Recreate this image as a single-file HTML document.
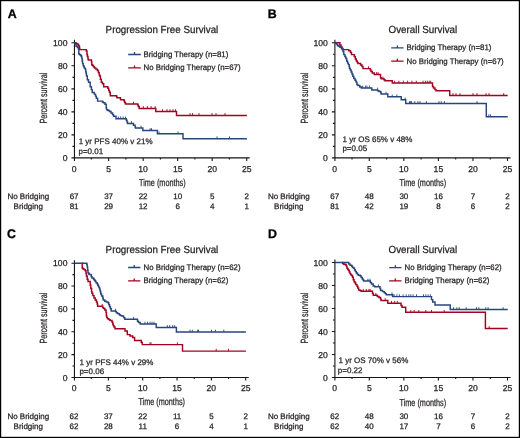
<!DOCTYPE html>
<html><head><meta charset="utf-8"><title>Kaplan-Meier survival curves</title>
<style>
html,body{margin:0;padding:0;background:#fff;}
body{width:520px;height:438px;overflow:hidden;}
svg{display:block;font-family:"Liberation Sans", sans-serif;text-rendering:geometricPrecision;will-change:transform;}
</style></head>
<body>
<svg width="520" height="438" viewBox="0 0 520 438">
<rect x="0" y="0" width="520" height="438" fill="#fff"/>
<text x="7.70" y="18.20" font-size="12.4" text-anchor="start" font-weight="bold" fill="#000" stroke="#000" stroke-width="0.3" >A</text>
<text x="267.80" y="18.20" font-size="12.4" text-anchor="start" font-weight="bold" fill="#000" stroke="#000" stroke-width="0.3" >B</text>
<text x="7.10" y="238.10" font-size="12.4" text-anchor="start" font-weight="bold" fill="#000" stroke="#000" stroke-width="0.3" >C</text>
<text x="268.00" y="238.10" font-size="12.4" text-anchor="start" font-weight="bold" fill="#000" stroke="#000" stroke-width="0.3" >D</text>
<text transform="translate(105.60 33.40) scale(0.951 1)" font-size="10.3" text-anchor="start" font-weight="normal" fill="#231f20" stroke="#231f20" stroke-width="0.25" >Progression Free Survival</text>
<text transform="translate(388.60 33.30) scale(0.951 1)" font-size="10.3" text-anchor="start" font-weight="normal" fill="#231f20" stroke="#231f20" stroke-width="0.25" >Overall Survival</text>
<text transform="translate(105.60 253.00) scale(0.951 1)" font-size="10.3" text-anchor="start" font-weight="normal" fill="#231f20" stroke="#231f20" stroke-width="0.25" >Progression Free Survival</text>
<text transform="translate(388.60 253.30) scale(0.951 1)" font-size="10.3" text-anchor="start" font-weight="normal" fill="#231f20" stroke="#231f20" stroke-width="0.25" >Overall Survival</text>
<path d="M74.45 39.80V160.90M71.45 157.90H249.70M71.45 157.90H74.45M72.45 146.39H74.45M71.45 134.88H74.45M72.45 123.37H74.45M71.45 111.86H74.45M72.45 100.35H74.45M71.45 88.84H74.45M72.45 77.33H74.45M71.45 65.82H74.45M72.45 54.31H74.45M71.45 42.80H74.45M91.36 157.90V159.50M108.62 157.90V160.90M125.88 157.90V159.50M143.14 157.90V160.90M160.40 157.90V159.50M177.66 157.90V160.90M194.92 157.90V159.50M212.18 157.90V160.90M229.44 157.90V159.50M246.70 157.90V160.90" stroke="#161616" stroke-width="1.1" fill="none"/>
<text x="67.45" y="160.90" font-size="8.6" text-anchor="end" font-weight="normal" fill="#231f20" stroke="#231f20" stroke-width="0.25" >0</text>
<text x="67.45" y="137.88" font-size="8.6" text-anchor="end" font-weight="normal" fill="#231f20" stroke="#231f20" stroke-width="0.25" >20</text>
<text x="67.45" y="114.86" font-size="8.6" text-anchor="end" font-weight="normal" fill="#231f20" stroke="#231f20" stroke-width="0.25" >40</text>
<text x="67.45" y="91.84" font-size="8.6" text-anchor="end" font-weight="normal" fill="#231f20" stroke="#231f20" stroke-width="0.25" >60</text>
<text x="67.45" y="68.82" font-size="8.6" text-anchor="end" font-weight="normal" fill="#231f20" stroke="#231f20" stroke-width="0.25" >80</text>
<text x="67.45" y="45.80" font-size="8.6" text-anchor="end" font-weight="normal" fill="#231f20" stroke="#231f20" stroke-width="0.25" >100</text>
<text x="74.10" y="171.90" font-size="8.6" text-anchor="middle" font-weight="normal" fill="#231f20" stroke="#231f20" stroke-width="0.25" >0</text>
<text x="108.62" y="171.90" font-size="8.6" text-anchor="middle" font-weight="normal" fill="#231f20" stroke="#231f20" stroke-width="0.25" >5</text>
<text x="143.14" y="171.90" font-size="8.6" text-anchor="middle" font-weight="normal" fill="#231f20" stroke="#231f20" stroke-width="0.25" >10</text>
<text x="177.66" y="171.90" font-size="8.6" text-anchor="middle" font-weight="normal" fill="#231f20" stroke="#231f20" stroke-width="0.25" >15</text>
<text x="212.18" y="171.90" font-size="8.6" text-anchor="middle" font-weight="normal" fill="#231f20" stroke="#231f20" stroke-width="0.25" >20</text>
<text x="246.70" y="171.90" font-size="8.6" text-anchor="middle" font-weight="normal" fill="#231f20" stroke="#231f20" stroke-width="0.25" >25</text>
<path d="M334.90 39.80V160.90M331.90 157.90H510.50M331.90 157.90H334.90M332.90 146.39H334.90M331.90 134.88H334.90M332.90 123.37H334.90M331.90 111.86H334.90M332.90 100.35H334.90M331.90 88.84H334.90M332.90 77.33H334.90M331.90 65.82H334.90M332.90 54.31H334.90M331.90 42.80H334.90M352.02 157.90V159.50M369.30 157.90V160.90M386.57 157.90V159.50M403.85 157.90V160.90M421.12 157.90V159.50M438.40 157.90V160.90M455.68 157.90V159.50M472.95 157.90V160.90M490.23 157.90V159.50M507.50 157.90V160.90" stroke="#161616" stroke-width="1.1" fill="none"/>
<text x="327.90" y="160.90" font-size="8.6" text-anchor="end" font-weight="normal" fill="#231f20" stroke="#231f20" stroke-width="0.25" >0</text>
<text x="327.90" y="137.88" font-size="8.6" text-anchor="end" font-weight="normal" fill="#231f20" stroke="#231f20" stroke-width="0.25" >20</text>
<text x="327.90" y="114.86" font-size="8.6" text-anchor="end" font-weight="normal" fill="#231f20" stroke="#231f20" stroke-width="0.25" >40</text>
<text x="327.90" y="91.84" font-size="8.6" text-anchor="end" font-weight="normal" fill="#231f20" stroke="#231f20" stroke-width="0.25" >60</text>
<text x="327.90" y="68.82" font-size="8.6" text-anchor="end" font-weight="normal" fill="#231f20" stroke="#231f20" stroke-width="0.25" >80</text>
<text x="327.90" y="45.80" font-size="8.6" text-anchor="end" font-weight="normal" fill="#231f20" stroke="#231f20" stroke-width="0.25" >100</text>
<text x="334.75" y="171.90" font-size="8.6" text-anchor="middle" font-weight="normal" fill="#231f20" stroke="#231f20" stroke-width="0.25" >0</text>
<text x="369.30" y="171.90" font-size="8.6" text-anchor="middle" font-weight="normal" fill="#231f20" stroke="#231f20" stroke-width="0.25" >5</text>
<text x="403.85" y="171.90" font-size="8.6" text-anchor="middle" font-weight="normal" fill="#231f20" stroke="#231f20" stroke-width="0.25" >10</text>
<text x="438.40" y="171.90" font-size="8.6" text-anchor="middle" font-weight="normal" fill="#231f20" stroke="#231f20" stroke-width="0.25" >15</text>
<text x="472.95" y="171.90" font-size="8.6" text-anchor="middle" font-weight="normal" fill="#231f20" stroke="#231f20" stroke-width="0.25" >20</text>
<text x="507.50" y="171.90" font-size="8.6" text-anchor="middle" font-weight="normal" fill="#231f20" stroke="#231f20" stroke-width="0.25" >25</text>
<path d="M74.45 260.20V380.50M71.45 377.50H248.70M71.45 377.50H74.45M72.45 366.07H74.45M71.45 354.64H74.45M72.45 343.21H74.45M71.45 331.78H74.45M72.45 320.35H74.45M71.45 308.92H74.45M72.45 297.49H74.45M71.45 286.06H74.45M72.45 274.63H74.45M71.45 263.20H74.45M91.22 377.50V379.10M108.38 377.50V380.50M125.54 377.50V379.10M142.71 377.50V380.50M159.88 377.50V379.10M177.04 377.50V380.50M194.20 377.50V379.10M211.37 377.50V380.50M228.53 377.50V379.10M245.70 377.50V380.50" stroke="#161616" stroke-width="1.1" fill="none"/>
<text x="67.45" y="380.50" font-size="8.6" text-anchor="end" font-weight="normal" fill="#231f20" stroke="#231f20" stroke-width="0.25" >0</text>
<text x="67.45" y="357.64" font-size="8.6" text-anchor="end" font-weight="normal" fill="#231f20" stroke="#231f20" stroke-width="0.25" >20</text>
<text x="67.45" y="334.78" font-size="8.6" text-anchor="end" font-weight="normal" fill="#231f20" stroke="#231f20" stroke-width="0.25" >40</text>
<text x="67.45" y="311.92" font-size="8.6" text-anchor="end" font-weight="normal" fill="#231f20" stroke="#231f20" stroke-width="0.25" >60</text>
<text x="67.45" y="289.06" font-size="8.6" text-anchor="end" font-weight="normal" fill="#231f20" stroke="#231f20" stroke-width="0.25" >80</text>
<text x="67.45" y="266.20" font-size="8.6" text-anchor="end" font-weight="normal" fill="#231f20" stroke="#231f20" stroke-width="0.25" >100</text>
<text x="74.05" y="391.40" font-size="8.6" text-anchor="middle" font-weight="normal" fill="#231f20" stroke="#231f20" stroke-width="0.25" >0</text>
<text x="108.38" y="391.40" font-size="8.6" text-anchor="middle" font-weight="normal" fill="#231f20" stroke="#231f20" stroke-width="0.25" >5</text>
<text x="142.71" y="391.40" font-size="8.6" text-anchor="middle" font-weight="normal" fill="#231f20" stroke="#231f20" stroke-width="0.25" >10</text>
<text x="177.04" y="391.40" font-size="8.6" text-anchor="middle" font-weight="normal" fill="#231f20" stroke="#231f20" stroke-width="0.25" >15</text>
<text x="211.37" y="391.40" font-size="8.6" text-anchor="middle" font-weight="normal" fill="#231f20" stroke="#231f20" stroke-width="0.25" >20</text>
<text x="245.70" y="391.40" font-size="8.6" text-anchor="middle" font-weight="normal" fill="#231f20" stroke="#231f20" stroke-width="0.25" >25</text>
<path d="M334.90 259.50V380.50M331.90 377.50H510.50M331.90 377.50H334.90M332.90 366.00H334.90M331.90 354.50H334.90M332.90 343.00H334.90M331.90 331.50H334.90M332.90 320.00H334.90M331.90 308.50H334.90M332.90 297.00H334.90M331.90 285.50H334.90M332.90 274.00H334.90M331.90 262.50H334.90M352.02 377.50V379.10M369.30 377.50V380.50M386.57 377.50V379.10M403.85 377.50V380.50M421.12 377.50V379.10M438.40 377.50V380.50M455.68 377.50V379.10M472.95 377.50V380.50M490.23 377.50V379.10M507.50 377.50V380.50" stroke="#161616" stroke-width="1.1" fill="none"/>
<text x="327.90" y="380.50" font-size="8.6" text-anchor="end" font-weight="normal" fill="#231f20" stroke="#231f20" stroke-width="0.25" >0</text>
<text x="327.90" y="357.50" font-size="8.6" text-anchor="end" font-weight="normal" fill="#231f20" stroke="#231f20" stroke-width="0.25" >20</text>
<text x="327.90" y="334.50" font-size="8.6" text-anchor="end" font-weight="normal" fill="#231f20" stroke="#231f20" stroke-width="0.25" >40</text>
<text x="327.90" y="311.50" font-size="8.6" text-anchor="end" font-weight="normal" fill="#231f20" stroke="#231f20" stroke-width="0.25" >60</text>
<text x="327.90" y="288.50" font-size="8.6" text-anchor="end" font-weight="normal" fill="#231f20" stroke="#231f20" stroke-width="0.25" >80</text>
<text x="327.90" y="265.50" font-size="8.6" text-anchor="end" font-weight="normal" fill="#231f20" stroke="#231f20" stroke-width="0.25" >100</text>
<text x="334.75" y="391.40" font-size="8.6" text-anchor="middle" font-weight="normal" fill="#231f20" stroke="#231f20" stroke-width="0.25" >0</text>
<text x="369.30" y="391.40" font-size="8.6" text-anchor="middle" font-weight="normal" fill="#231f20" stroke="#231f20" stroke-width="0.25" >5</text>
<text x="403.85" y="391.40" font-size="8.6" text-anchor="middle" font-weight="normal" fill="#231f20" stroke="#231f20" stroke-width="0.25" >10</text>
<text x="438.40" y="391.40" font-size="8.6" text-anchor="middle" font-weight="normal" fill="#231f20" stroke="#231f20" stroke-width="0.25" >15</text>
<text x="472.95" y="391.40" font-size="8.6" text-anchor="middle" font-weight="normal" fill="#231f20" stroke="#231f20" stroke-width="0.25" >20</text>
<text x="507.50" y="391.40" font-size="8.6" text-anchor="middle" font-weight="normal" fill="#231f20" stroke="#231f20" stroke-width="0.25" >25</text>
<text transform="translate(46.70 98.20) rotate(-90)" x="0" y="0" font-size="10.4" text-anchor="middle" fill="#231f20" stroke="#231f20" stroke-width="0.25" textLength="50.8" lengthAdjust="spacingAndGlyphs">Percent survival</text>
<text transform="translate(307.50 98.20) rotate(-90)" x="0" y="0" font-size="10.4" text-anchor="middle" fill="#231f20" stroke="#231f20" stroke-width="0.25" textLength="50.8" lengthAdjust="spacingAndGlyphs">Percent survival</text>
<text transform="translate(46.70 318.20) rotate(-90)" x="0" y="0" font-size="10.4" text-anchor="middle" fill="#231f20" stroke="#231f20" stroke-width="0.25" textLength="50.8" lengthAdjust="spacingAndGlyphs">Percent survival</text>
<text transform="translate(307.50 318.20) rotate(-90)" x="0" y="0" font-size="10.4" text-anchor="middle" fill="#231f20" stroke="#231f20" stroke-width="0.25" textLength="50.8" lengthAdjust="spacingAndGlyphs">Percent survival</text>
<text x="139.00" y="185.90" font-size="10" fill="#231f20" stroke="#231f20" stroke-width="0.25" textLength="46.6" lengthAdjust="spacingAndGlyphs">Time (months)</text>
<text x="399.50" y="185.90" font-size="10" fill="#231f20" stroke="#231f20" stroke-width="0.25" textLength="46.6" lengthAdjust="spacingAndGlyphs">Time (months)</text>
<text x="138.40" y="405.40" font-size="10" fill="#231f20" stroke="#231f20" stroke-width="0.25" textLength="46.6" lengthAdjust="spacingAndGlyphs">Time (months)</text>
<text x="399.50" y="405.70" font-size="10" fill="#231f20" stroke="#231f20" stroke-width="0.25" textLength="46.6" lengthAdjust="spacingAndGlyphs">Time (months)</text>
<text x="78.70" y="143.90" font-size="8" text-anchor="start" font-weight="normal" fill="#231f20" stroke="#231f20" stroke-width="0.25" >1 yr PFS 40% v 21%</text>
<text x="78.50" y="153.80" font-size="8" text-anchor="start" font-weight="normal" fill="#231f20" stroke="#231f20" stroke-width="0.25" >p=0.01</text>
<text x="342.60" y="141.50" font-size="8" text-anchor="start" font-weight="normal" fill="#231f20" stroke="#231f20" stroke-width="0.25" >1 yr OS 65% v 48%</text>
<text x="342.40" y="151.00" font-size="8" text-anchor="start" font-weight="normal" fill="#231f20" stroke="#231f20" stroke-width="0.25" >p=0.05</text>
<text x="79.60" y="364.70" font-size="8" text-anchor="start" font-weight="normal" fill="#231f20" stroke="#231f20" stroke-width="0.25" >1 yr PFS 44% v 29%</text>
<text x="79.40" y="374.20" font-size="8" text-anchor="start" font-weight="normal" fill="#231f20" stroke="#231f20" stroke-width="0.25" >p=0.06</text>
<text x="338.50" y="363.00" font-size="8" text-anchor="start" font-weight="normal" fill="#231f20" stroke="#231f20" stroke-width="0.25" >1 yr OS 70% v 56%</text>
<text x="337.80" y="372.50" font-size="8" text-anchor="start" font-weight="normal" fill="#231f20" stroke="#231f20" stroke-width="0.25" >p=0.22</text>
<text x="28.30" y="199.00" font-size="8" text-anchor="middle" font-weight="normal" fill="#231f20" stroke="#231f20" stroke-width="0.25" >No Bridging</text>
<text x="28.30" y="209.00" font-size="8" text-anchor="middle" font-weight="normal" fill="#231f20" stroke="#231f20" stroke-width="0.25" >Bridging</text>
<text x="74.10" y="199.00" font-size="8" text-anchor="middle" font-weight="normal" fill="#231f20" stroke="#231f20" stroke-width="0.25" >67</text>
<text x="74.10" y="209.00" font-size="8" text-anchor="middle" font-weight="normal" fill="#231f20" stroke="#231f20" stroke-width="0.25" >81</text>
<text x="108.62" y="199.00" font-size="8" text-anchor="middle" font-weight="normal" fill="#231f20" stroke="#231f20" stroke-width="0.25" >37</text>
<text x="108.62" y="209.00" font-size="8" text-anchor="middle" font-weight="normal" fill="#231f20" stroke="#231f20" stroke-width="0.25" >29</text>
<text x="143.14" y="199.00" font-size="8" text-anchor="middle" font-weight="normal" fill="#231f20" stroke="#231f20" stroke-width="0.25" >22</text>
<text x="143.14" y="209.00" font-size="8" text-anchor="middle" font-weight="normal" fill="#231f20" stroke="#231f20" stroke-width="0.25" >12</text>
<text x="177.66" y="199.00" font-size="8" text-anchor="middle" font-weight="normal" fill="#231f20" stroke="#231f20" stroke-width="0.25" >10</text>
<text x="177.66" y="209.00" font-size="8" text-anchor="middle" font-weight="normal" fill="#231f20" stroke="#231f20" stroke-width="0.25" >6</text>
<text x="212.18" y="199.00" font-size="8" text-anchor="middle" font-weight="normal" fill="#231f20" stroke="#231f20" stroke-width="0.25" >5</text>
<text x="212.18" y="209.00" font-size="8" text-anchor="middle" font-weight="normal" fill="#231f20" stroke="#231f20" stroke-width="0.25" >4</text>
<text x="246.70" y="199.00" font-size="8" text-anchor="middle" font-weight="normal" fill="#231f20" stroke="#231f20" stroke-width="0.25" >2</text>
<text x="246.70" y="209.00" font-size="8" text-anchor="middle" font-weight="normal" fill="#231f20" stroke="#231f20" stroke-width="0.25" >1</text>
<text x="288.80" y="199.00" font-size="8" text-anchor="middle" font-weight="normal" fill="#231f20" stroke="#231f20" stroke-width="0.25" >No Bridging</text>
<text x="288.80" y="209.00" font-size="8" text-anchor="middle" font-weight="normal" fill="#231f20" stroke="#231f20" stroke-width="0.25" >Bridging</text>
<text x="334.75" y="199.00" font-size="8" text-anchor="middle" font-weight="normal" fill="#231f20" stroke="#231f20" stroke-width="0.25" >67</text>
<text x="334.75" y="209.00" font-size="8" text-anchor="middle" font-weight="normal" fill="#231f20" stroke="#231f20" stroke-width="0.25" >81</text>
<text x="369.30" y="199.00" font-size="8" text-anchor="middle" font-weight="normal" fill="#231f20" stroke="#231f20" stroke-width="0.25" >48</text>
<text x="369.30" y="209.00" font-size="8" text-anchor="middle" font-weight="normal" fill="#231f20" stroke="#231f20" stroke-width="0.25" >42</text>
<text x="403.85" y="199.00" font-size="8" text-anchor="middle" font-weight="normal" fill="#231f20" stroke="#231f20" stroke-width="0.25" >30</text>
<text x="403.85" y="209.00" font-size="8" text-anchor="middle" font-weight="normal" fill="#231f20" stroke="#231f20" stroke-width="0.25" >19</text>
<text x="438.40" y="199.00" font-size="8" text-anchor="middle" font-weight="normal" fill="#231f20" stroke="#231f20" stroke-width="0.25" >16</text>
<text x="438.40" y="209.00" font-size="8" text-anchor="middle" font-weight="normal" fill="#231f20" stroke="#231f20" stroke-width="0.25" >8</text>
<text x="472.95" y="199.00" font-size="8" text-anchor="middle" font-weight="normal" fill="#231f20" stroke="#231f20" stroke-width="0.25" >7</text>
<text x="472.95" y="209.00" font-size="8" text-anchor="middle" font-weight="normal" fill="#231f20" stroke="#231f20" stroke-width="0.25" >6</text>
<text x="507.50" y="199.00" font-size="8" text-anchor="middle" font-weight="normal" fill="#231f20" stroke="#231f20" stroke-width="0.25" >2</text>
<text x="507.50" y="209.00" font-size="8" text-anchor="middle" font-weight="normal" fill="#231f20" stroke="#231f20" stroke-width="0.25" >2</text>
<text x="28.30" y="419.00" font-size="8" text-anchor="middle" font-weight="normal" fill="#231f20" stroke="#231f20" stroke-width="0.25" >No Bridging</text>
<text x="28.30" y="428.80" font-size="8" text-anchor="middle" font-weight="normal" fill="#231f20" stroke="#231f20" stroke-width="0.25" >Bridging</text>
<text x="74.05" y="419.00" font-size="8" text-anchor="middle" font-weight="normal" fill="#231f20" stroke="#231f20" stroke-width="0.25" >62</text>
<text x="74.05" y="428.80" font-size="8" text-anchor="middle" font-weight="normal" fill="#231f20" stroke="#231f20" stroke-width="0.25" >62</text>
<text x="108.38" y="419.00" font-size="8" text-anchor="middle" font-weight="normal" fill="#231f20" stroke="#231f20" stroke-width="0.25" >37</text>
<text x="108.38" y="428.80" font-size="8" text-anchor="middle" font-weight="normal" fill="#231f20" stroke="#231f20" stroke-width="0.25" >28</text>
<text x="142.71" y="419.00" font-size="8" text-anchor="middle" font-weight="normal" fill="#231f20" stroke="#231f20" stroke-width="0.25" >22</text>
<text x="142.71" y="428.80" font-size="8" text-anchor="middle" font-weight="normal" fill="#231f20" stroke="#231f20" stroke-width="0.25" >11</text>
<text x="177.04" y="419.00" font-size="8" text-anchor="middle" font-weight="normal" fill="#231f20" stroke="#231f20" stroke-width="0.25" >11</text>
<text x="177.04" y="428.80" font-size="8" text-anchor="middle" font-weight="normal" fill="#231f20" stroke="#231f20" stroke-width="0.25" >6</text>
<text x="211.37" y="419.00" font-size="8" text-anchor="middle" font-weight="normal" fill="#231f20" stroke="#231f20" stroke-width="0.25" >5</text>
<text x="211.37" y="428.80" font-size="8" text-anchor="middle" font-weight="normal" fill="#231f20" stroke="#231f20" stroke-width="0.25" >4</text>
<text x="245.70" y="419.00" font-size="8" text-anchor="middle" font-weight="normal" fill="#231f20" stroke="#231f20" stroke-width="0.25" >2</text>
<text x="245.70" y="428.80" font-size="8" text-anchor="middle" font-weight="normal" fill="#231f20" stroke="#231f20" stroke-width="0.25" >1</text>
<text x="288.80" y="419.00" font-size="8" text-anchor="middle" font-weight="normal" fill="#231f20" stroke="#231f20" stroke-width="0.25" >No Bridging</text>
<text x="288.80" y="428.80" font-size="8" text-anchor="middle" font-weight="normal" fill="#231f20" stroke="#231f20" stroke-width="0.25" >Bridging</text>
<text x="334.75" y="419.00" font-size="8" text-anchor="middle" font-weight="normal" fill="#231f20" stroke="#231f20" stroke-width="0.25" >62</text>
<text x="334.75" y="428.80" font-size="8" text-anchor="middle" font-weight="normal" fill="#231f20" stroke="#231f20" stroke-width="0.25" >62</text>
<text x="369.30" y="419.00" font-size="8" text-anchor="middle" font-weight="normal" fill="#231f20" stroke="#231f20" stroke-width="0.25" >48</text>
<text x="369.30" y="428.80" font-size="8" text-anchor="middle" font-weight="normal" fill="#231f20" stroke="#231f20" stroke-width="0.25" >40</text>
<text x="403.85" y="419.00" font-size="8" text-anchor="middle" font-weight="normal" fill="#231f20" stroke="#231f20" stroke-width="0.25" >30</text>
<text x="403.85" y="428.80" font-size="8" text-anchor="middle" font-weight="normal" fill="#231f20" stroke="#231f20" stroke-width="0.25" >17</text>
<text x="438.40" y="419.00" font-size="8" text-anchor="middle" font-weight="normal" fill="#231f20" stroke="#231f20" stroke-width="0.25" >16</text>
<text x="438.40" y="428.80" font-size="8" text-anchor="middle" font-weight="normal" fill="#231f20" stroke="#231f20" stroke-width="0.25" >7</text>
<text x="472.95" y="419.00" font-size="8" text-anchor="middle" font-weight="normal" fill="#231f20" stroke="#231f20" stroke-width="0.25" >7</text>
<text x="472.95" y="428.80" font-size="8" text-anchor="middle" font-weight="normal" fill="#231f20" stroke="#231f20" stroke-width="0.25" >6</text>
<text x="507.50" y="419.00" font-size="8" text-anchor="middle" font-weight="normal" fill="#231f20" stroke="#231f20" stroke-width="0.25" >2</text>
<text x="507.50" y="428.80" font-size="8" text-anchor="middle" font-weight="normal" fill="#231f20" stroke="#231f20" stroke-width="0.25" >2</text>
<path d="M128.20 54.50H140.80M134.50 54.50v-2.4" stroke="#26467f" stroke-width="1.3" fill="none"/>
<text transform="translate(143.50 56.90) scale(0.982 1)" font-size="8" text-anchor="start" font-weight="normal" fill="#231f20" stroke="#231f20" stroke-width="0.25" >Bridging Therapy (n=81)</text>
<path d="M128.20 67.80H140.80M134.50 67.80v-2.4" stroke="#a2031f" stroke-width="1.3" fill="none"/>
<text transform="translate(143.50 70.40) scale(0.982 1)" font-size="8" text-anchor="start" font-weight="normal" fill="#231f20" stroke="#231f20" stroke-width="0.25" >No Bridging Therapy (n=67)</text>
<path d="M391.20 47.80H403.50M397.35 47.80v-2.4" stroke="#26467f" stroke-width="1.3" fill="none"/>
<text transform="translate(406.60 50.30) scale(0.982 1)" font-size="8" text-anchor="start" font-weight="normal" fill="#231f20" stroke="#231f20" stroke-width="0.25" >Bridging Therapy (n=81)</text>
<path d="M391.20 61.10H403.50M397.35 61.10v-2.4" stroke="#a2031f" stroke-width="1.3" fill="none"/>
<text transform="translate(406.60 63.60) scale(0.982 1)" font-size="8" text-anchor="start" font-weight="normal" fill="#231f20" stroke="#231f20" stroke-width="0.25" >No Bridging Therapy (n=67)</text>
<path d="M128.10 267.50H140.40M134.25 267.50v-2.4" stroke="#26467f" stroke-width="1.3" fill="none"/>
<text transform="translate(143.50 270.00) scale(0.982 1)" font-size="8" text-anchor="start" font-weight="normal" fill="#231f20" stroke="#231f20" stroke-width="0.25" >No Bridging Therapy (n=62)</text>
<path d="M128.10 280.80H140.40M134.25 280.80v-2.4" stroke="#a2031f" stroke-width="1.3" fill="none"/>
<text transform="translate(143.50 283.30) scale(0.982 1)" font-size="8" text-anchor="start" font-weight="normal" fill="#231f20" stroke="#231f20" stroke-width="0.25" >Bridging Therapy (n=62)</text>
<path d="M389.20 267.60H401.50M395.35 267.60v-2.4" stroke="#26467f" stroke-width="1.3" fill="none"/>
<text transform="translate(404.60 270.10) scale(0.982 1)" font-size="8" text-anchor="start" font-weight="normal" fill="#231f20" stroke="#231f20" stroke-width="0.25" >No Bridging Therapy (n=62)</text>
<path d="M389.20 280.90H401.50M395.35 280.90v-2.4" stroke="#a2031f" stroke-width="1.3" fill="none"/>
<text transform="translate(404.60 283.40) scale(0.982 1)" font-size="8" text-anchor="start" font-weight="normal" fill="#231f20" stroke="#231f20" stroke-width="0.25" >Bridging Therapy (n=62)</text>
<path d="M74.45 42.8H76V43.5H77V44H78.1V44.8H78.6V45.8H79.1V46.5H79.5V48.2H79.8V49.6H86.3V51H87V54.4H87.4V56.4H88V59.2H88.4V59.9H91.5V61.9H91.8V64.7H92.2V65.3H93.2V66.4H94.2V67.4H94.9V68.1H95.9V69.1H97.3V70.5H98.4V72.5H99.2V74.8H99.6V76H100.4V79.3H101.3V82.2H102.5V83.8H103.7V86.7H107.8V88.3H108.7V90.4H109.5V92.4H110.3V95.7H116.5V96.5H116.9V97.8H120.5V99.7H124.1V101H124.6V102.4H125.5V104H137.8V105.1H138.3V106.5H139.2V108.4H155.8V111.5H176.5V115.5H246.9" stroke="#a2031f" stroke-width="1.45" fill="none" stroke-linejoin="miter" stroke-linecap="butt"/>
<path d="M74.45 42.8H75V44.1H76V46.2H77.4V47.5H78.5V49.2H78.8V53.7H79.5V54.7H80.8V55.8H81.5V57.1H81.9V58.8H82.2V61.2H82.6V63.6H83.2V65.7H83.9V66.7H84.3V68.1H85.3V69.5H85.8V72H86.2V74H86.5V76H87.3V79.7H88.5V82.2H90.2V83H90.2V86.7H91.4V89.6H92.2V92.4H94.3V94.1H95.5V96.1H96.3V98.2H97.6V101.1H102.5V101.9H103.3V102.7H105V104.3H106.2V108H106.6V109.7H107.8V110.5H109.5V111.5H111V113H112.5V114.5H113.5V116.3H116V118.8H126.3V120.2H127V122H127.5V123.4H133.5V125.2H135.1V127H135.5V128H142.8V130.5H157.4V133.8H183V138.7H246.9" stroke="#26467f" stroke-width="1.45" fill="none" stroke-linejoin="miter" stroke-linecap="butt"/>
<path d="M133.50 104.00v-2.3M143.30 108.40v-2.3M147.40 108.40v-2.3M151.10 108.40v-2.3M155.20 108.40v-2.3M162.50 111.50v-2.3M167.00 111.50v-2.3M170.00 111.50v-2.3M173.00 111.50v-2.3M175.50 111.50v-2.3M190.00 115.40v-2.3M192.50 115.40v-2.3M199.00 115.40v-2.3M212.00 115.40v-2.3M216.00 115.40v-2.3M225.00 115.40v-2.3" stroke="#a2031f" stroke-width="0.9" fill="none"/>
<path d="M118.30 118.80v-2.3M120.70 118.80v-2.3M123.10 118.80v-2.3M125.50 118.80v-2.3M131.40 123.40v-2.3M141.00 128.00v-2.3M150.10 130.50v-2.3M151.50 130.50v-2.3M159.00 133.80v-2.3M178.00 133.80v-2.3M217.00 138.70v-2.3M229.50 138.70v-2.3" stroke="#26467f" stroke-width="0.9" fill="none"/>
<path d="M334.9 42.8H339.9V45H341V47H342V48.5H343V49.6H348.8V50.8H350.5V52.5H351.5V54.6H354.2V56.5H355.3V59H356.3V61H357.3V62.5H358V63.5H360.6V65H362V66.5H363V68.6H370.3V70H371V71.5H372.3V73H374.2V74.4H380.5V77.8H381.2V78.8H384V79.7H385V80.7H392.3V83H432.5V86.4H433.5V88H434.9V89.6H436V90.7H449.7V95.4H507.7" stroke="#a2031f" stroke-width="1.45" fill="none" stroke-linejoin="miter" stroke-linecap="butt"/>
<path d="M334.9 42.8H335.8V43.6H336.8V44.6H337.6V45.4H338.4V46.2H339.9V47.3H341.5V48.5H342.2V49.6H343V51.5H343.8V54.6H344.9V56.5H345.7V58.1H346.5V59.2H346.8V61.2H347.6V63.1H348.4V64.6H349.2V66.5H349.5V68.5H350.3V70H351.1V72H352V74H352.8V76.3H353.8V78.5H355V80.2H356V82.1H356.9V84.5H357.9V85.5H359.8V86.9H361.3V87.9H371.8V89.9H377.6V90.8H379V91.5H380.7V92.4H381.1V94H387.8V96.8H401.2V99.8H405.7V103.4H486.3V116.7H507.7" stroke="#26467f" stroke-width="1.45" fill="none" stroke-linejoin="miter" stroke-linecap="butt"/>
<path d="M368.50 68.60v-2.3M376.60 74.40v-2.3M378.10 74.40v-2.3M382.90 78.80v-2.3M394.60 83.00v-2.3M398.90 83.00v-2.3M403.30 83.00v-2.3M407.60 83.00v-2.3M411.90 83.00v-2.3M416.30 83.00v-2.3M423.00 83.00v-2.3M425.40 83.00v-2.3M427.30 83.00v-2.3M429.20 83.00v-2.3M430.70 83.00v-2.3M453.00 95.40v-2.3M456.00 95.40v-2.3M460.00 95.40v-2.3M473.00 95.40v-2.3M477.00 95.40v-2.3M486.00 95.40v-2.3M489.00 95.40v-2.3M503.70 95.40v-2.3" stroke="#a2031f" stroke-width="0.9" fill="none"/>
<path d="M362.70 87.90v-2.3M365.60 87.90v-2.3M367.00 87.90v-2.3M369.40 87.90v-2.3M377.60 89.90v-2.3M386.00 94.00v-2.3M392.20 96.80v-2.3M396.80 96.80v-2.3M405.20 99.80v-2.3M409.50 103.40v-2.3M410.60 103.40v-2.3M411.60 103.40v-2.3M414.80 103.40v-2.3M418.00 103.40v-2.3M420.00 103.40v-2.3M426.40 103.40v-2.3M439.00 103.40v-2.3M441.30 103.40v-2.3M444.40 103.40v-2.3M477.00 103.40v-2.3M488.80 116.70v-2.3M490.50 116.70v-2.3" stroke="#26467f" stroke-width="0.9" fill="none"/>
<path d="M81.5 263.2H82.2V268H82.8V268.8H84V269.6H85.2V270.8H86V273.2H86.4V276H87.2V279.2H88V281.4H90.2V285.2H90.8V288.4H91.6V291.6H92V293.2H92.8V295.6H94V298H95.2V300H96.4V302H97.2V304H97.6V306.2H102.8V307.6H103.6V308.4H104.8V310H106V312.4H106.4V316H106.8V317.6H107.6V318.8H108.8V319.6H110V320.4H112V322H112.8V324H113.2V325.6H114V327H115V328.8H125V331H127.3V334.6H130V336H132.7V337.5H134.6V340.4H141.3V342.5H142.3V344.6H182.5V351.1H245.9" stroke="#a2031f" stroke-width="1.45" fill="none" stroke-linejoin="miter" stroke-linecap="butt"/>
<path d="M74.45 263.2H86.8V264.4H87.2V266.8H87.6V270H88V272.8H88.8V274H89.2V274.4H91.2V276.8H92V278H93.6V279.2H94.4V280.2H95.2V281.2H96V282.8H97.2V284H97.8V285.2H98.4V286.4H99V287.6H99.6V289H100V290.4H100.4V292H100.8V294H101.6V296H102.8V298H103.2V300H104.8V301.2H106.4V302H108V302.8H108.8V304.8H109.6V306.8H110.4V308.8H111.2V311H115.6V311.6H116.4V312.8H117.6V313.6H119.2V314.8H120.4V315.6H122V316H123.6V317.6H124.8V319.2H137.5V321.2H138.5V322.5H140.2V324H156.2V327.4H176.4V332H245.9" stroke="#26467f" stroke-width="1.45" fill="none" stroke-linejoin="miter" stroke-linecap="butt"/>
<path d="M115.60 311.00v-2.3M133.60 319.20v-2.3M145.00 324.00v-2.3M147.50 324.00v-2.3M150.00 324.00v-2.3M152.00 324.00v-2.3M154.00 324.00v-2.3M167.30 327.40v-2.3M169.70 327.40v-2.3M172.70 327.40v-2.3M174.70 327.40v-2.3M190.00 332.00v-2.3M192.30 332.00v-2.3M197.70 332.00v-2.3M198.60 332.00v-2.3M211.50 332.00v-2.3M215.40 332.00v-2.3M223.80 332.00v-2.3" stroke="#26467f" stroke-width="0.9" fill="none"/>
<path d="M102.20 306.20v-2.3M150.00 344.60v-2.3M151.00 344.60v-2.3M177.40 344.60v-2.3M216.20 351.10v-2.3M228.50 351.10v-2.3" stroke="#a2031f" stroke-width="0.9" fill="none"/>
<path d="M342 262.5H342.6V263.5H343.8V264.2H345.5V265H346.5V266.5H347V268.2H347.7V269.2H348.4V270.3H349.2V272H350V273.6H350.8V274.8H351.7V275.6H352.5V277.3H353.3V279.7H354.1V281.8H355V283H355.8V284.6H357V286.3H357.8V288H358.6V290H359.9V290.5H361.1V291.2H372.5V293.5H373.3V295.2H377.3V296.5H379V297.5H380.5V299H381V300.5H387.8V303.2H401V305.5H402V307.3H405.7V312.3H485.4V328.5H507.7" stroke="#a2031f" stroke-width="1.45" fill="none" stroke-linejoin="miter" stroke-linecap="butt"/>
<path d="M334.9 262.5H348.8V264H350V265.2H351.7V266.2H352.5V267.5H353.7V268.2H354.5V270H355.4V271.5H356.3V273H357.4V274.4H358.5V275.2H360.3V276H361.2V277.5H362.3V279H363V280H363.7V281H370.3V282.5H371.5V284H373.2V286H374.7V286.8H380V288.5H380.6V290.5H382.6V291.6H384.2V292.6H385.2V293.6H386.3V294.7H392.8V296.6H431.5V299.6H432.7V302H435V304.9H450.2V309.5H507.7" stroke="#26467f" stroke-width="1.45" fill="none" stroke-linejoin="miter" stroke-linecap="butt"/>
<path d="M367.90 281.00v-2.3M370.00 281.00v-2.3M378.40 286.80v-2.3M392.00 294.70v-2.3M392.30 296.60v-2.3M394.20 296.60v-2.3M396.90 296.60v-2.3M399.40 296.60v-2.3M403.10 296.60v-2.3M406.20 296.60v-2.3M408.80 296.60v-2.3M410.80 296.60v-2.3M413.10 296.60v-2.3M416.50 296.60v-2.3M423.50 296.60v-2.3M425.80 296.60v-2.3M428.10 296.60v-2.3M430.40 296.60v-2.3M453.50 309.50v-2.3M456.90 309.50v-2.3M459.20 309.50v-2.3M466.20 309.50v-2.3M476.50 309.50v-2.3M478.80 309.50v-2.3M485.80 309.50v-2.3M488.10 309.50v-2.3M503.10 309.50v-2.3" stroke="#26467f" stroke-width="0.9" fill="none"/>
<path d="M363.20 291.20v-2.3M366.30 291.20v-2.3M368.90 291.20v-2.3M370.20 291.20v-2.3M375.80 295.20v-2.3M385.20 300.50v-2.3M391.50 303.20v-2.3M394.70 303.20v-2.3M397.30 303.20v-2.3M410.80 312.30v-2.3M414.20 312.30v-2.3M418.80 312.30v-2.3M425.80 312.30v-2.3M431.50 312.30v-2.3M444.20 312.30v-2.3M489.20 328.50v-2.3" stroke="#a2031f" stroke-width="0.9" fill="none"/>
<rect x="0.55" y="0.55" width="518.9" height="436.9" fill="none" stroke="#000" stroke-width="1.3"/>
</svg>
</body></html>
